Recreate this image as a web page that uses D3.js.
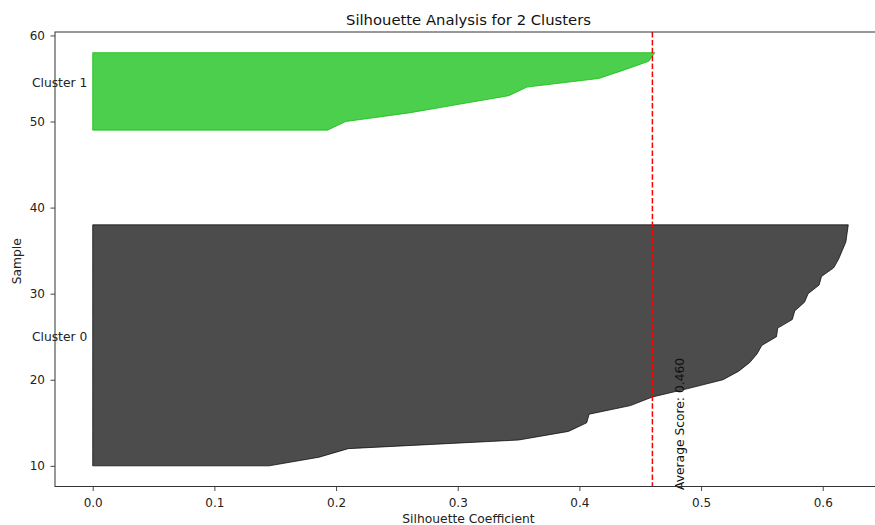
<!DOCTYPE html>
<html>
<head>
<meta charset="utf-8">
<script src="https://cdn.jsdelivr.net/npm/d3@7"></script>
<style>
  body { margin: 0; background: #fff; }
  svg { font-family: "DejaVu Sans", sans-serif; }
</style>
</head>
<body>
<div id="chart"></div>
<script>
//
// DATA
//
const clusterNames = ['Cluster 0', 'Cluster 1']
// silhouette values, sorted ascending, one per sample
const cluster0Values = [
    0.145, 0.186, 0.210, 0.350, 0.391, 0.406, 0.408, 0.442, 0.460, 0.490,
    0.518, 0.531, 0.540, 0.546, 0.550, 0.562, 0.563, 0.575, 0.577, 0.585,
    0.588, 0.597, 0.599, 0.609, 0.613, 0.616, 0.619, 0.620, 0.621
]
const cluster1Values = [0.193, 0.208, 0.260, 0.301, 0.342, 0.357, 0.416, 0.437, 0.457, 0.462]
const clusterColors = ['#000000', '#00bb00']
const avgScore = 0.460
const xTicks = [0, 0.1, 0.2, 0.3, 0.4, 0.5, 0.6]
const yTicks = [10, 20, 30, 40, 50, 60]

//
// GLOBALS
//
const width = 875
const height = 525
const margin = { left: 55, right: -11, top: 32, bottom: 38.5 }
const fontSize = 12.3

const svg = d3.select('#chart')
    .append('svg')
    .attr('width', width)
    .attr('height', height)

// same limits matplotlib would pick (5% margins)
const x = d3.scaleLinear()
    .domain([-0.031, 0.652])
    .range([margin.left, width - margin.right])
const y = d3.scaleLinear()
    .domain([7.6, 60.4])
    .range([height - margin.bottom, margin.top])

// 1) the silhouettes, 10 samples gap between clusters
const clusters = [cluster0Values, cluster1Values]
let yLower = 10
clusters.forEach((vals, i) => {
    const pts = vals.map((v, j) => ({ y: yLower + j, v }))
    const area = d3.area()
        .y(d => y(d.y))
        .x0(x(0))
        .x1(d => x(d.v))
    svg.append('path')
        .attr('d', area(pts))
        .attr('fill', clusterColors[i])
        .attr('fill-opacity', 0.7)
        .attr('stroke', clusterColors[i])
        .attr('stroke-opacity', 0.7)
        .attr('stroke-width', 1)
    // label in the middle of the cluster
    svg.append('text')
        .attr('x', x(-0.05))
        .attr('y', y(yLower + 0.5 * vals.length))
        .attr('font-size', fontSize)
        .attr('fill', '#222')
        .text(clusterNames[i])
    yLower += vals.length + 10
})

// 2) average line
svg.append('line')
    .attr('x1', x(avgScore))
    .attr('x2', x(avgScore))
    .attr('y1', y.range()[1])
    .attr('y2', y.range()[0])
    .attr('stroke', 'red')
    .attr('stroke-width', 1.5)
    .attr('stroke-dasharray', '5.5,2.4')

svg.append('text')
    .attr('transform', `translate(${x(avgScore + 0.02) + 7.5},${y.range()[0] + 3.5}) rotate(-90)`)
    .attr('font-size', fontSize)
    .attr('fill', '#111')
    .text('Average Score: ' + avgScore.toFixed(3))

// 3) axes
const xAxis = svg.append('g')
    .attr('transform', `translate(0,${y.range()[0]})`)
    .call(d3.axisBottom(x).tickValues(xTicks).tickFormat(d3.format('.1f')).tickSizeOuter(0).tickSize(4.5).tickPadding(7))
const yAxis = svg.append('g')
    .attr('transform', `translate(${margin.left},0)`)
    .call(d3.axisLeft(y).tickValues(yTicks).tickFormat(d3.format('d')).tickSizeOuter(0).tickSize(4.5).tickPadding(5.5))
for (const g of [xAxis, yAxis]) {
    g.select('.domain').remove()
    g.selectAll('.tick line').attr('stroke', '#333').attr('stroke-width', 0.9)
    g.selectAll('.tick text')
        .attr('font-family', '"DejaVu Sans", sans-serif')
        .attr('font-size', 12)
        .attr('fill', '#222')
}

// frame
svg.append('rect')
    .attr('x', x.range()[0])
    .attr('y', y.range()[1])
    .attr('width', x.range()[1] - x.range()[0])
    .attr('height', y.range()[0] - y.range()[1])
    .attr('fill', 'none')
    .attr('stroke', '#333')
    .attr('stroke-width', 1)

// 4) titles
const plotMidX = (x.range()[0] + x.range()[1]) / 2 - 2
svg.append('text')
    .attr('x', plotMidX)
    .attr('y', 25)
    .attr('text-anchor', 'middle')
    .attr('font-size', 14.8)
    .attr('fill', '#111')
    .text('Silhouette Analysis for 2 Clusters')
svg.append('text')
    .attr('x', plotMidX)
    .attr('y', 523)
    .attr('text-anchor', 'middle')
    .attr('font-size', fontSize)
    .attr('fill', '#222')
    .text('Silhouette Coefficient')
svg.append('text')
    .attr('transform', `translate(21,${(y.range()[0] + y.range()[1]) / 2 + 2}) rotate(-90)`)
    .attr('text-anchor', 'middle')
    .attr('font-size', fontSize)
    .attr('fill', '#222')
    .text('Sample')
</script>
</body>
</html>
